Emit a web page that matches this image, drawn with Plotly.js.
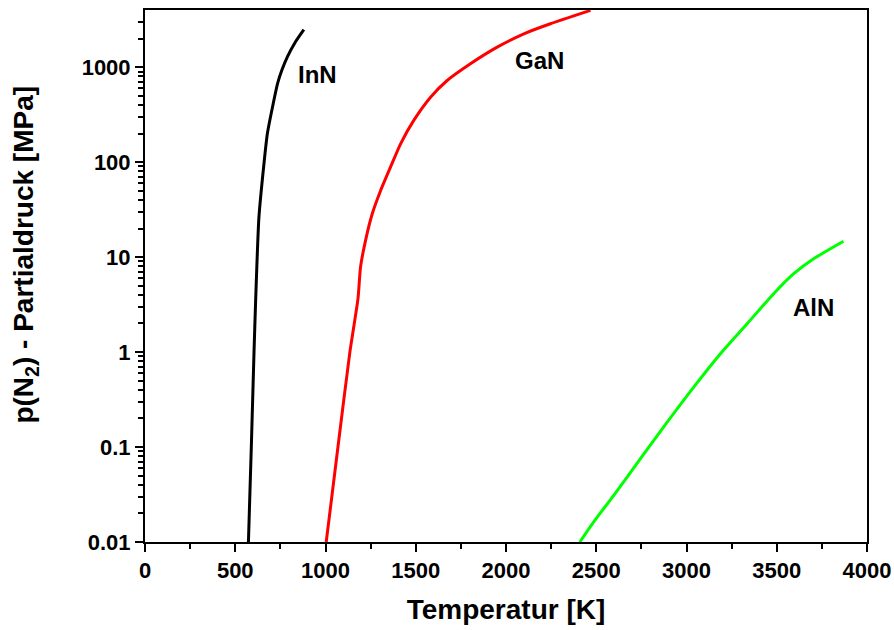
<!DOCTYPE html>
<html>
<head>
<meta charset="utf-8">
<script src="https://cdn.plot.ly/plotly-3.0.1.min.js"></script>
<style>html,body{margin:0;padding:0;background:#fff}#chart{width:894px;height:630px}</style>
</head>
<body>
<div id="chart"></div>
<script>
const innT = [573, 589, 604, 613, 631, 659, 678, 711, 735, 760, 790, 830, 880];
const innP = [0.01, 0.1, 1, 3.5, 26, 96, 200, 420, 680, 950, 1300, 1800, 2480];
const ganT = [1004, 1069, 1135, 1180, 1194, 1222, 1259, 1305, 1360, 1416, 1489, 1582, 1674, 1803, 1951, 2099, 2246, 2468];
const ganP = [0.01, 0.1, 1, 3.65, 7.85, 15, 28.6, 50, 88.5, 156, 275, 483, 724, 1086, 1624, 2245, 2864, 3960];
const alnT = [2409, 2486, 2597, 2745, 2893, 3040, 3188, 3336, 3483, 3594, 3704, 3870];
const alnP = [0.01, 0.0163, 0.031, 0.0755, 0.183, 0.428, 0.962, 1.99, 4.12, 6.68, 9.6, 14.7];
const xTickVals = [0, 500, 1000, 1500, 2000, 2500, 3000, 3500, 4000];
const yTickVals = [0.01, 0.1, 1, 10, 100, 1000];
const yTickText = ["0.01", "0.1", "1", "10", "100", "1000"];
const labels = [
  {text: "InN", x: 834, y: 830},
  {text: "GaN", x: 2041, y: 1165},
  {text: "AlN", x: 3577, y: 2.95}
];

const minorY = [];
for (let e = -2; e <= 3; e++) for (let m = 2; m <= 9; m++) { const v = m * Math.pow(10, e); if (v < 4000) minorY.push(v); }

const font = "Liberation Sans, Arial, sans-serif";
const traces = [
  {x: innT, y: innP, mode: "lines", line: {color: "#000000", width: 3, shape: "spline", smoothing: 0.6}, name: "InN"},
  {x: ganT, y: ganP, mode: "lines", line: {color: "#ff0000", width: 3, shape: "spline", smoothing: 0.6}, name: "GaN"},
  {x: alnT, y: alnP, mode: "lines", line: {color: "#00ff00", width: 3, shape: "spline", smoothing: 0.6}, name: "AlN"}
];
const annotations = labels.map(l => ({
  text: l.text, x: l.x, y: Math.log10(l.y), xref: "x", yref: "y",
  showarrow: false, xanchor: "left", yanchor: "middle",
  font: {family: font, size: 24, weight: "bold", color: "#000"}
}));
annotations.push({
  text: "p(N<sub>2</sub>) - Partialdruck [MPa]", xref: "paper", yref: "paper",
  x: -0.165, y: 0.54, xanchor: "center", yanchor: "middle", textangle: -90, showarrow: false,
  font: {family: font, size: 28, weight: "bold", color: "#000"}
});
const layout = {
  width: 894, height: 630,
  margin: {l: 145, r: 27, t: 10, b: 88},
  paper_bgcolor: "#fff", plot_bgcolor: "#fff",
  showlegend: false,
  font: {family: font, color: "#000"},
  xaxis: {
    range: [0, 4000], tickmode: "array", tickvals: xTickVals,
    ticks: "outside", ticklen: 8, tickwidth: 2, tickcolor: "#000",
    showline: true, linewidth: 2, linecolor: "#000", mirror: true,
    showgrid: false, zeroline: false,
    tickfont: {family: font, size: 22, weight: "bold"},
    minor: {dtick: 250, ticks: "outside", ticklen: 5, tickwidth: 2, tickcolor: "#000", showgrid: false},
    title: {text: "Temperatur [K]", font: {family: font, size: 28, weight: "bold"}, standoff: 17}
  },
  yaxis: {
    type: "log", range: [-2, Math.log10(4000)],
    tickmode: "array", tickvals: yTickVals, ticktext: yTickText,
    ticks: "outside", ticklen: 8, tickwidth: 2, tickcolor: "#000",
    showline: true, linewidth: 2, linecolor: "#000", mirror: true,
    showgrid: false, zeroline: false,
    tickfont: {family: font, size: 22, weight: "bold"},
    minor: {tickmode: "array", tickvals: minorY, ticks: "outside", ticklen: 5, tickwidth: 2, tickcolor: "#000", showgrid: false}
  },
  annotations: annotations
};
Plotly.newPlot("chart", traces, layout, {staticPlot: true, displayModeBar: false});
</script>
</body>
</html>
